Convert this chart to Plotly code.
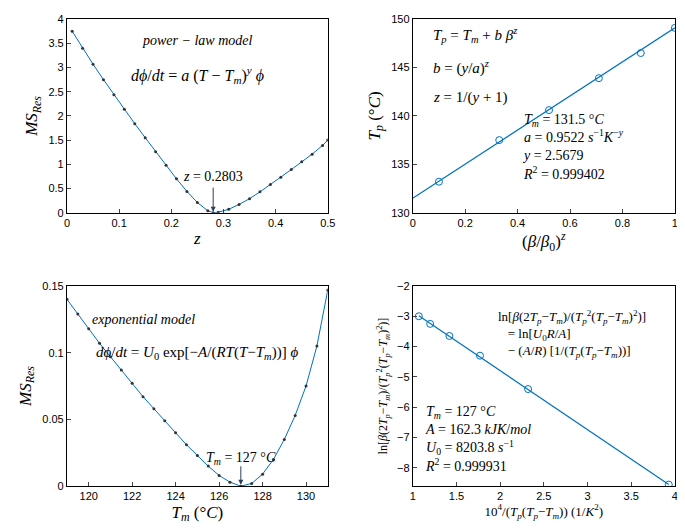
import plotly.graph_objects as go

# top-left: power-law model residuals
z_vals = [0.01, 0.03, 0.05, 0.07, 0.09, 0.11, 0.13, 0.15, 0.17, 0.19, 0.21, 0.23, 0.25,
          0.27, 0.2803, 0.29, 0.31, 0.33, 0.35, 0.37, 0.39, 0.41, 0.43, 0.45, 0.47, 0.49, 0.5]
ms_z = [3.75, 3.40, 3.07, 2.75, 2.44, 2.14, 1.84, 1.55, 1.26, 0.98, 0.70, 0.44, 0.21,
        0.04, 0.0, 0.01, 0.07, 0.17, 0.29, 0.43, 0.58, 0.73, 0.89, 1.05, 1.21, 1.39, 1.50]

# top-right: Tp vs (beta/beta0)^z
bz = [0.1, 0.33, 0.52, 0.71, 0.87, 1.0]
tp = [133.2, 137.5, 140.6, 143.9, 146.5, 149.1]
fit_x = [0, 1]
fit_tp = [131.5, 149.1]

# bottom-left: exponential model residuals
tm_vals = [119, 119.5, 120, 120.5, 121, 121.5, 122, 122.5, 123, 123.5, 124, 124.5, 125,
           125.5, 126, 126.5, 127, 127.5, 128, 128.5, 129, 129.5, 130, 130.5, 131]
ms_tm = [0.140, 0.129, 0.118, 0.107, 0.097, 0.087, 0.077, 0.067, 0.058, 0.049, 0.040, 0.031, 0.023,
         0.015, 0.008, 0.003, 0.0, 0.002, 0.009, 0.020, 0.035, 0.053, 0.075, 0.105, 0.147]

# bottom-right: linearised plot
xr = [1.07, 1.2, 1.42, 1.77, 2.32, 3.93]
yr = [-3.0, -3.25, -3.65, -4.3, -5.4, -8.55]
fit_xr = [1.07, 3.93]
fit_yr = [-2.98, -8.55]

blue = "#0072BD"
font = dict(family="Liberation Serif", size=14, color="black")

fig = go.Figure()
fig.add_trace(go.Scatter(x=z_vals, y=ms_z, mode="lines+markers", line=dict(color=blue, width=1),
                         marker=dict(size=3, color="#333"), xaxis="x", yaxis="y"))
fig.add_trace(go.Scatter(x=fit_x, y=fit_tp, mode="lines", line=dict(color=blue, width=1.2),
                         xaxis="x2", yaxis="y2"))
fig.add_trace(go.Scatter(x=bz, y=tp, mode="markers", marker=dict(size=7, color="rgba(0,0,0,0)",
                         line=dict(color=blue, width=1)), xaxis="x2", yaxis="y2"))
fig.add_trace(go.Scatter(x=tm_vals, y=ms_tm, mode="lines+markers", line=dict(color=blue, width=1),
                         marker=dict(size=3, color="#333"), xaxis="x3", yaxis="y3"))
fig.add_trace(go.Scatter(x=fit_xr, y=fit_yr, mode="lines", line=dict(color=blue, width=1.2),
                         xaxis="x4", yaxis="y4"))
fig.add_trace(go.Scatter(x=xr, y=yr, mode="markers", marker=dict(size=7, color="rgba(0,0,0,0)",
                         line=dict(color=blue, width=1)), xaxis="x4", yaxis="y4"))

ax = dict(showline=True, mirror=True, linecolor="black", ticks="inside", ticklen=4,
          showgrid=False, zeroline=False, tickfont=dict(family="Liberation Sans", size=11))
L, R = [0.083, 0.47], [0.596, 0.985]
T, B = [0.615, 0.99], [0.085, 0.473]
fig.update_layout(
    width=685, height=528, showlegend=False, plot_bgcolor="white", paper_bgcolor="white",
    margin=dict(l=0, r=0, t=0, b=0), font=font,
    xaxis=dict(ax, domain=L, anchor="y", range=[0, 0.5], dtick=0.1,
               title=dict(text="<i>z</i>", standoff=4)),
    yaxis=dict(ax, domain=T, anchor="x", range=[0, 4], tickvals=[0, 0.5, 1, 1.5, 2, 2.5, 3, 3.5, 4],
               title=dict(text="<i>MS<sub>Res</sub></i>", standoff=6)),
    xaxis2=dict(ax, domain=R, anchor="y2", range=[0, 1], dtick=0.2,
                title=dict(text="(<i>β</i>/<i>β</i><sub>0</sub>)<sup><i>z</i></sup>", standoff=4)),
    yaxis2=dict(ax, domain=T, anchor="x2", range=[130, 150], dtick=5,
                title=dict(text="<i>T<sub>p</sub></i> (°<i>C</i>)", standoff=6)),
    xaxis3=dict(ax, domain=L, anchor="y3", range=[119, 131], dtick=2,
                title=dict(text="<i>T<sub>m</sub></i> (°<i>C</i>)", standoff=4)),
    yaxis3=dict(ax, domain=B, anchor="x3", range=[0, 0.15], dtick=0.05,
                title=dict(text="<i>MS<sub>Res</sub></i>", standoff=6)),
    xaxis4=dict(ax, domain=R, anchor="y4", range=[1, 4], dtick=0.5,
                title=dict(text="10<sup>4</sup>/(<i>T<sub>p</sub></i>(<i>T<sub>p</sub></i>−<i>T<sub>m</sub></i>)) (1/<i>K</i><sup>2</sup>)",
                           standoff=4, font=dict(size=13))),
    yaxis4=dict(ax, domain=B, anchor="x4", range=[-8.6, -2], tickvals=[-8, -7, -6, -5, -4, -3, -2],
                title=dict(text="ln[<i>β</i>(2<i>T<sub>p</sub></i>−<i>T<sub>m</sub></i>)/(<i>T<sub>p</sub></i><sup>2</sup>(<i>T<sub>p</sub></i>−<i>T<sub>m</sub></i>)<sup>2</sup>)]",
                           standoff=6, font=dict(size=12))),
)

def note(text, x, y, xref, yref, size=14, align="left", xanchor="left"):
    fig.add_annotation(text=text, x=x, y=y, xref=xref, yref=yref, showarrow=False,
                       font=dict(family="Liberation Serif", size=size), align=align, xanchor=xanchor)

note("<i>power − law model</i>", 0.25, 3.55, "x", "y", xanchor="center")
note("<i>dϕ</i>/<i>dt</i> = <i>a</i> (<i>T</i> − <i>T<sub>m</sub></i>)<sup><i>y</i></sup> <i>ϕ</i>", 0.25, 2.85, "x", "y", size=16, xanchor="center")
fig.add_annotation(x=0.2803, y=0.02, xref="x", yref="y", ax=0.2803, ay=0.55, axref="x", ayref="y",
                   showarrow=True, arrowhead=2, arrowwidth=1, text="")
note("<i>z</i> = 0.2803", 0.2803, 0.75, "x", "y", xanchor="center")

note("<i>T<sub>p</sub></i> = <i>T<sub>m</sub></i> + <i>b β<sup>z</sup></i>", 0.07, 148.4, "x2", "y2", size=15)
note("<i>b</i> = (<i>y</i>/<i>a</i>)<sup><i>z</i></sup>", 0.07, 145, "x2", "y2", size=15)
note("<i>z</i> = 1/(<i>y</i> + 1)", 0.07, 141.9, "x2", "y2", size=15)
note("<i>T<sub>m</sub></i> = 131.5 °<i>C</i><br><i>a</i> = 0.9522 <i>s</i><sup>−1</sup><i>K</i><sup>−<i>y</i></sup><br><i>y</i> = 2.5679<br><i>R</i><sup>2</sup> = 0.999402",
     0.41, 136.8, "x2", "y2")

note("<i>exponential model</i>", 122.5, 0.125, "x3", "y3", xanchor="center")
note("<i>dϕ</i>/<i>dt</i> = <i>U</i><sub>0</sub> exp[−<i>A</i>/(<i>RT</i>(<i>T</i>−<i>T<sub>m</sub></i>))] <i>ϕ</i>", 125, 0.1, "x3", "y3", size=15, xanchor="center")
fig.add_annotation(x=127, y=0.001, xref="x3", yref="y3", ax=127, ay=0.016, axref="x3", ayref="y3",
                   showarrow=True, arrowhead=2, arrowwidth=1, text="")
note("<i>T<sub>m</sub></i> = 127 °<i>C</i>", 127, 0.021, "x3", "y3", xanchor="center")

note("ln[<i>β</i>(2<i>T<sub>p</sub></i>−<i>T<sub>m</sub></i>)/(<i>T<sub>p</sub></i><sup>2</sup>(<i>T<sub>p</sub></i>−<i>T<sub>m</sub></i>)<sup>2</sup>)]<br>   = ln[<i>U</i><sub>0</sub><i>R</i>/<i>A</i>]<br>   − (<i>A</i>/<i>R</i>) [1/(<i>T<sub>p</sub></i>(<i>T<sub>p</sub></i>−<i>T<sub>m</sub></i>))]",
     1.95, -3.6, "x4", "y4", size=13)
note("<i>T<sub>m</sub></i> = 127 °<i>C</i><br><i>A</i> = 162.3 <i>kJK</i>/<i>mol</i><br><i>U</i><sub>0</sub> = 8203.8 <i>s</i><sup>−1</sup><br><i>R</i><sup>2</sup> = 0.999931",
     1.12, -7.05, "x4", "y4")

fig.write_html("out.html")
